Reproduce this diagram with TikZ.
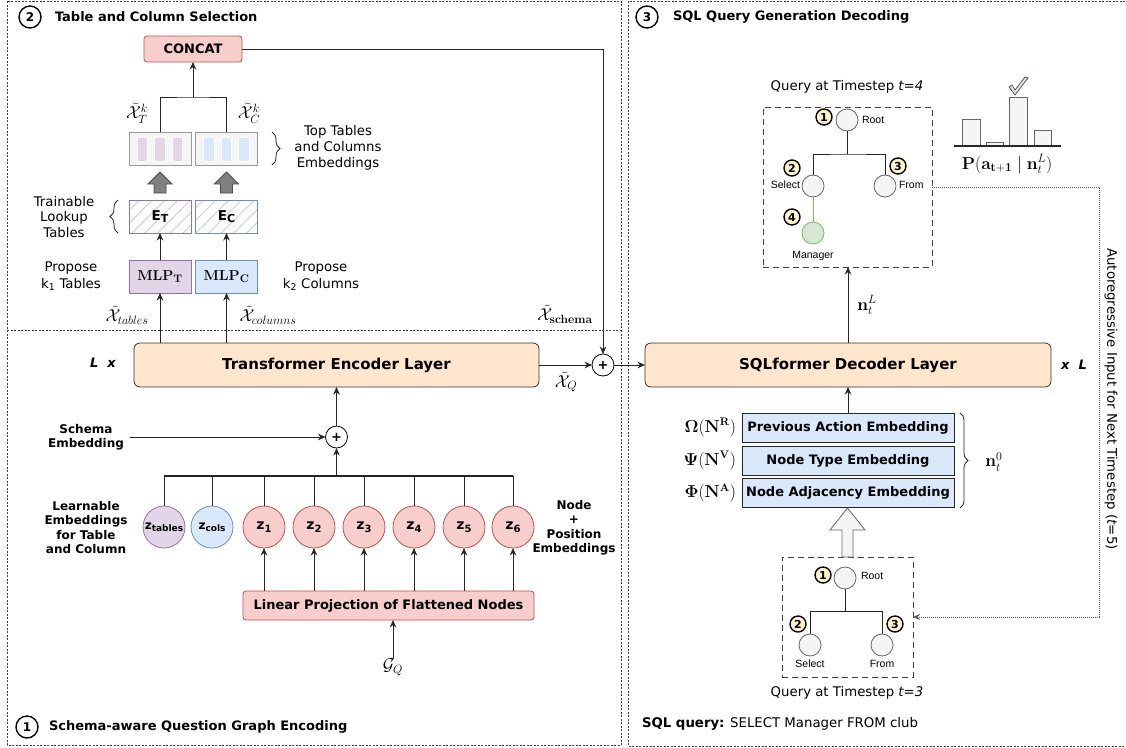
\documentclass[tikz,border=0pt]{standalone}
\usepackage{amsmath}
\usepackage[no-math]{fontspec}
\setmainfont{DejaVu Sans}
\newfontfamily\arialfont{Liberation Sans}
\usetikzlibrary{arrows.meta,decorations.pathreplacing,patterns.meta}
\definecolor{pinkF}{HTML}{F8CECC}
\definecolor{pinkD}{HTML}{B85450}
\definecolor{purF}{HTML}{E1D5E7}
\definecolor{purD}{HTML}{9673A6}
\definecolor{bluF}{HTML}{DAE8FC}
\definecolor{bluD}{HTML}{6C8EBF}
\definecolor{orgF}{HTML}{FFE6CC}
\definecolor{grnF}{HTML}{D5E8D4}
\definecolor{grnD}{HTML}{82B366}
\definecolor{yelF}{HTML}{FFF2CC}
\definecolor{grayF}{HTML}{F5F5F5}
\definecolor{grayD}{HTML}{666666}
\newcommand{\mysub}[3]{#1\raisebox{-0.35ex}{\fontsize{#3}{#3}\selectfont #2}}
\begin{document}
\begin{tikzpicture}[x=1pt,y=-1pt,
  every node/.style={inner sep=0pt, outer sep=0pt},
  ln/.style={draw=black!85, line width=0.8pt},
  arr/.style={ln, -{Stealth[length=7.5pt,width=6.5pt]}},
  panel/.style={draw=black!75, line width=0.7pt, dash pattern=on 2pt off 1.5pt},
  numc/.style={circle, draw=black, line width=1.4pt, minimum size=22pt, font=\fontsize{12}{12}\selectfont\bfseries},
  badge/.style={circle, draw=black, fill=yelF, line width=1.4pt, minimum size=16pt, font=\fontsize{11}{11}\selectfont\bfseries},
  ttl/.style={anchor=west, font=\fontsize{13}{15}\selectfont\bfseries},
  pinkbox/.style={rounded corners=3pt, fill=pinkF, draw=pinkD, line width=0.8pt, font=\fontsize{13}{15}\selectfont\bfseries},
  orgbox/.style={rounded corners=6pt, fill=orgF, draw=black!80, line width=0.8pt, font=\fontsize{15}{18}\selectfont\bfseries},
  embbox/.style={fill=grayF, draw=black!40, line width=0.8pt, minimum width=62pt, minimum height=33pt},
  ebox/.style={line width=0.8pt, minimum width=62pt, minimum height=33pt, pattern={Lines[angle=45,distance=9pt,line width=0.7pt]}, font=\fontsize{13.5}{13.5}\selectfont\bfseries},
  mlpbox/.style={line width=0.8pt, minimum width=62pt, minimum height=33pt, font=\fontsize{15}{15}\selectfont},
  stackbox/.style={fill=bluF, draw=black!85, line width=0.8pt, minimum width=212pt, minimum height=29pt, font=\fontsize{13}{15}\selectfont\bfseries},
  plus/.style={circle, draw=black, fill=white, line width=0.8pt, minimum size=22pt, font=\fontsize{13}{13}\selectfont\bfseries},
  zc/.style={circle, line width=0.8pt, minimum size=42pt, font=\fontsize{14}{14}\selectfont\bfseries},
  brc/.style={ln, decorate, decoration={brace, amplitude=8pt}},
  lbl/.style={align=center, font=\fontsize{13.3}{16}\selectfont},
  blbl/.style={align=center, font=\fontsize{12}{14.5}\selectfont\bfseries},
  mth/.style={font=\fontsize{17.28}{17}\selectfont},
  tlbl/.style={font=\arialfont\fontsize{10.5}{12}\selectfont},
  tnode/.style={circle, draw=grayD, fill=grayF, line width=0.8pt, minimum size=22pt},
  tline/.style={draw=black!85, line width=1pt},
  qbox/.style={draw=black!75, line width=1pt, dash pattern=on 6pt off 4pt},
  blk/.style={fill=black!50, draw=black!70, line width=0.8pt},
  hol/.style={fill=grayF, draw=grayD, line width=0.8pt},
  dotarr/.style={draw=black!65, line width=0.7pt, dash pattern=on 1pt off 1pt, -{Stealth[length=7pt,width=6pt]}},
  bar/.style={fill=grayF, draw=grayD, line width=0.8pt}
]
\useasboundingbox (0,0) rectangle (1126,747);
% panels
\draw[panel] (7,1) rectangle (621,330);
\draw[panel] (7,330) -- (7,745) -- (621,745) -- (621,330);
\draw[panel] (1132,1) -- (628,1) -- (628,746) -- (1132,746);

% ---------- Panel 2 ----------
\node[numc] (c2) at (30,17) {2};
\node[ttl] (t2) at (55,17) {Table and Column Selection};
\node[pinkbox, minimum width=98pt, minimum height=26pt] (concat) at (193,49) {CONCAT};
\node[embbox] (kT) at (160,148.5) {};
\node[embbox] (kC) at (226.5,148.5) {};
\foreach \x in {137,154.5,172} \draw[white, fill=purF, line width=0.8pt] (\x,137) rectangle ++(10.5,24);
\foreach \x in {203.5,221,238.5} \draw[white, fill=bluF, line width=0.8pt] (\x,137) rectangle ++(10.5,24);
\coordinate (jn) at (193,97);
\draw[ln] (kT.north) |- (jn) -| (kC.north);
\draw[arr] (jn) -- (concat.south);
\node[mth] (xtk) at (137,113) {$\tilde{\mathcal{X}}_T^k$};
\node[mth] (xck) at (249,113) {$\tilde{\mathcal{X}}_C^k$};
\draw[brc] (272,132) -- (272,165);
\node[lbl] (topemb) at (338,148) {Top Tables\\and Columns\\Embeddings};
\draw[blk] (160,193) -- ++(-6,0) -- ++(0,-9) -- ++(-6,0) -- ++(12,-12) -- ++(12,12) -- ++(-6,0) -- ++(0,9) -- cycle;
\draw[blk] (226.5,193) -- ++(-6,0) -- ++(0,-9) -- ++(-6,0) -- ++(12,-12) -- ++(12,12) -- ++(-6,0) -- ++(0,9) -- cycle;
\node[ebox, draw=purD, pattern color=purD!50] (ET) at (160,216.5) {\mysub{E}{T}{11}};
\node[ebox, draw=bluD, pattern color=bluD!50] (EC) at (226.5,216.5) {\mysub{E}{C}{11}};
\draw[brc] (118,233) -- (118,200);
\node[lbl, font=\fontsize{13.3}{15.5}\selectfont] (tlt) at (64,217) {Trainable\\Lookup\\Tables};
\node[mlpbox, fill=purF, draw=purD] (MT) at (160,276.5) {$\mathbf{MLP_T}$};
\node[mlpbox, fill=bluF, draw=bluD] (MC) at (226.5,276.5) {$\mathbf{MLP_C}$};
\draw[arr] (MT) -- (ET);
\draw[arr] (MC) -- (EC);
\node[lbl, font=\fontsize{13.3}{17}\selectfont] (pk1) at (71,276.5) {Propose\\k\textsubscript{1} Tables};
\node[lbl, font=\fontsize{13.3}{17}\selectfont] (pk2) at (321,276.5) {Propose\\k\textsubscript{2} Columns};

% ---------- Panel 1 ----------
\node[orgbox, minimum width=405pt, minimum height=44pt] (enc) at (336.5,365) {Transformer Encoder Layer};
\draw[arr] (MT.south |- enc.north) -- (MT.south);
\draw[arr] (MC.south |- enc.north) -- (MC.south);
\node[mth] (xtab) at (127,315) {$\tilde{\mathcal{X}}_{tables}$};
\node[mth] (xcol) at (268,315) {$\tilde{\mathcal{X}}_{columns}$};
\node[plus] (pq) at (603,365) {+};
\draw[arr] (concat.east) -| (pq.north);
\node[mth] (xsch) at (565,314) {$\tilde{\mathcal{X}}_{\mathbf{schema}}$};
\draw[arr] (enc.east) -- (pq.west);
\node[mth] (xq) at (566,382) {$\tilde{\mathcal{X}}_Q$};
\node[font=\fontsize{13}{13}\selectfont\bfseries\itshape] (lx) at (103,363) {L\hspace{0.7em}x};

\node[plus] (ps) at (336.5,437) {+};
\draw[arr] (ps.north) -- (enc.south);
\node[blbl] (se) at (86,437) {Schema\\Embedding};
\draw[arr] ([xshift=6pt]se.east) -- (ps.west);

\node[zc, fill=purF, draw=purD] (zt) at (164,527) {\fontsize{12}{12}\selectfont\mysub{z}{tables}{9}};
\node[zc, fill=bluF, draw=bluD] (zc) at (212,527) {\fontsize{12}{12}\selectfont\mysub{z}{cols}{9}};
\node[zc, fill=pinkF, draw=pinkD] (z1) at (264,527) {\mysub{z}{1}{10}};
\node[zc, fill=pinkF, draw=pinkD] (z2) at (314,527) {\mysub{z}{2}{10}};
\node[zc, fill=pinkF, draw=pinkD] (z3) at (364,527) {\mysub{z}{3}{10}};
\node[zc, fill=pinkF, draw=pinkD] (z4) at (414,527) {\mysub{z}{4}{10}};
\node[zc, fill=pinkF, draw=pinkD] (z5) at (464,527) {\mysub{z}{5}{10}};
\node[zc, fill=pinkF, draw=pinkD] (z6) at (513,527) {\mysub{z}{6}{10}};
\coordinate (bus) at (336.5,476);
\draw[ln, line width=1.5pt] (zt.north |- bus) -- (z6.north |- bus);
\foreach \n in {zt,zc,z1,z2,z3,z4,z5,z6} \draw[ln] (\n.north) -- (\n.north |- bus);
\draw[arr, line width=1.6pt] (bus) -- (ps.south);
\node[blbl] (lemb) at (86,527.5) {Learnable\\Embeddings\\for Table\\and Column};
\node[blbl] (npe) at (574,527.5) {Node\\+\\Position\\Embeddings};

\node[pinkbox, minimum width=291pt, minimum height=29pt] (lin) at (388.5,605.5) {Linear Projection of Flattened Nodes};
\foreach \n in {z1,z2,z3,z4,z5,z6} \draw[arr] (\n.south |- lin.north) -- (\n.south);
\node[mth] (gq) at (393,667) {$\mathcal{G}_Q$};
\draw[arr] (gq.north) -- (gq.north |- lin.south);
\node[numc] (c1) at (27,727) {1};
\node[ttl] (t1) at (49,727) {Schema-aware Question Graph Encoding};

% ---------- Panel 3 ----------
\node[numc] (c3) at (647,17) {3};
\node[ttl] (t3) at (673,17) {SQL Query Generation Decoding};
\node[orgbox, minimum width=406pt, minimum height=44pt] (dec) at (848,365) {SQLformer Decoder Layer};
\draw[arr] (pq.east) -- (dec.west);
\node[font=\fontsize{13}{13}\selectfont\bfseries\itshape] (xl) at (1074,365) {x\hspace{0.7em}L};

\node[stackbox] (pa) at (848,427.5) {Previous Action Embedding};
\node[stackbox] (nt) at (848,460.5) {Node Type Embedding};
\node[stackbox] (na) at (848,493) {Node Adjacency Embedding};
\draw[arr] (pa.north) -- (dec.south);
\node[anchor=east, font=\fontsize{16}{16}\selectfont] (om) at (736,427.5) {$\boldsymbol{\Omega}(\mathbf{N}^{\mathbf{R}})$};
\node[anchor=east, font=\fontsize{16}{16}\selectfont] (ps2) at (736,460.5) {$\boldsymbol{\Psi}(\mathbf{N}^{\mathbf{V}})$};
\node[anchor=east, font=\fontsize{16}{16}\selectfont] (ph) at (736,493) {$\boldsymbol{\Phi}(\mathbf{N}^{\mathbf{A}})$};
\draw[brc] (960,413) -- (960,508);
\node[mth] (n0) at (994,462) {$\mathbf{n}_t^0$};

\node[qbox, minimum width=169pt, minimum height=160pt] (qt) at (847.5,187) {};
\node[qbox, minimum width=131pt, minimum height=120pt] (qb) at (847.5,617) {};
\draw[arr] (dec.north) -- (dec.north |- qt.south);
\node[mth] (nL) at (867,305) {$\mathbf{n}_t^L$};
\draw[hol] (842,557) -- (842,530) -- (830,530) -- (847.5,508) -- (865,530) -- (853,530) -- (853,557) -- cycle;

% top tree
\node[lbl] (q4) at (847,87) {Query at Timestep \textit{t=4}};
\node[tnode] (r1) at (847,120) {};
\node[tnode] (s1) at (813,186) {};
\node[tnode] (f1) at (885,186) {};
\node[tnode, fill=grnF, draw=grnD] (m1) at (813,233) {};
\coordinate (j1) at (847,154);
\draw[tline] (r1.south) -- (j1);
\draw[tline] (s1.north) |- (j1) -| (f1.north);
\draw[draw=grnD, line width=1pt] (s1.south) -- (m1.north);
\node[badge] (b11) at (824,117) {1};
\node[badge] (b12) at (792,168) {2};
\node[badge] (b13) at (898,166) {3};
\node[badge] (b14) at (792,217) {4};
\node[tlbl, anchor=west] (rt1) at (862,120) {Root};
\node[tlbl, anchor=east] (st1) at (800,185) {Select};
\node[tlbl, anchor=west] (ft1) at (899,185) {From};
\node[tlbl] (mg1) at (813,256) {Manager};

% histogram
\draw[bar] (962,146) rectangle (980,119);
\draw[bar] (986,146) rectangle (1003,142);
\draw[bar] (1009,146) rectangle (1027,97);
\draw[bar] (1034,146) rectangle (1051,130);
\draw[draw=black!85, line width=1.5pt] (954,146) -- (1061,146);
\draw[fill=grnF, draw=black!70, line width=0.7pt] (1009,87) -- (1012,85) -- (1015,90) -- (1025,77) -- (1028,78) -- (1015,95) -- cycle;
\node[mth] (pl) at (1007,164) {$\mathbf{P}(\mathbf{a_{t+1}} \mid \mathbf{n}_t^L)$};

% autoregressive
\coordinate (ar) at (1099,400);
\draw[dotarr] (qt.east) -| (ar) |- (qb.east);
\node[lbl, rotate=-90] (art) at (1111,399) {Autoregressive Input for Next Timestep (\textit{t}=5)};

% bottom tree
\node[tnode] (r2) at (845,578) {};
\node[tnode] (s2) at (810,645) {};
\node[tnode] (f2) at (882,645) {};
\coordinate (j2) at (845,611);
\draw[tline] (r2.south) -- (j2);
\draw[tline] (s2.north) |- (j2) -| (f2.north);
\node[badge] (b21) at (823,575) {1};
\node[badge] (b22) at (798,624) {2};
\node[badge] (b23) at (895,624) {3};
\node[tlbl, anchor=west] (rt2) at (861,576) {Root};
\node[tlbl] (st2) at (810,664) {Select};
\node[tlbl] (ft2) at (882,664) {From};
\node[lbl] (q3) at (847,693) {Query at Timestep \textit{t=3}};
\node[lbl, anchor=west] (sq) at (642,724) {\textbf{SQL query:} SELECT Manager FROM club};
\end{tikzpicture}
\end{document}
